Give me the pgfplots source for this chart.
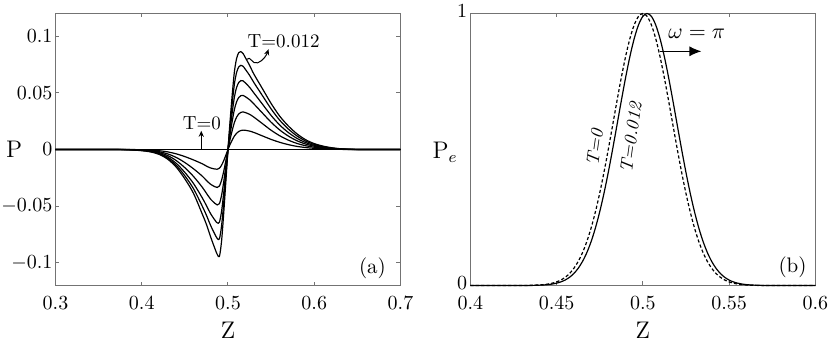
\documentclass[border=0pt]{standalone}
\usepackage{pgfplots}
\pgfplotsset{compat=1.18}
\usepackage{pgfplotstable}
\usetikzlibrary{arrows.meta}

\pgfplotstableread{
z c1 c2 c3 c4 c5 c6
0.30 0 0 0 0 0 0
0.36 0 0 0 0 0 0
0.38 -0.00002 -0.00004 -0.00007 -0.0001 -0.00014 -0.00019
0.39 -0.00007 -0.00014 -0.00022 -0.0003 -0.00038 -0.00047
0.40 -0.00017 -0.00034 -0.00051 -0.00069 -0.00086 -0.00104
0.41 -0.00044 -0.00082 -0.00117 -0.00152 -0.0018 -0.00208
0.42 -0.00104 -0.00192 -0.00266 -0.00334 -0.00383 -0.00425
0.43 -0.00209 -0.00383 -0.00532 -0.00668 -0.00765 -0.0085
0.44 -0.00383 -0.00702 -0.00976 -0.01225 -0.01403 -0.01558
0.45 -0.00626 -0.01152 -0.01607 -0.02024 -0.02327 -0.02596
0.46 -0.00922 -0.017 -0.02376 -0.03 -0.03459 -0.0387
0.47 -0.01253 -0.02339 -0.03313 -0.04244 -0.04973 -0.05664
0.475 -0.01462 -0.02728 -0.03865 -0.04952 -0.05802 -0.06608
0.48 -0.01636 -0.03078 -0.04398 -0.05685 -0.06727 -0.07741
0.485 -0.01723 -0.03286 -0.04762 -0.06249 -0.07508 -0.08779
0.4875 -0.0174 -0.03347 -0.04891 -0.06471 -0.07842 -0.09251
0.49 -0.01653 -0.03226 -0.04782 -0.06419 -0.0789 -0.0944
0.4925 -0.01392 -0.02728 -0.04062 -0.05476 -0.06759 -0.08118
0.495 -0.00992 -0.01935 -0.02869 -0.03851 -0.04734 -0.05664
0.4975 -0.00505 -0.00981 -0.01449 -0.01939 -0.02375 -0.02832
0.5 0 0 0 0 0 0
0.5025 0.00462 0.00919 0.01356 0.01765 0.02193 0.02592
0.505 0.00855 0.01712 0.0254 0.03322 0.04148 0.04925
0.5075 0.01197 0.02398 0.03559 0.04659 0.05819 0.06912
0.51 0.01436 0.02857 0.04214 0.0548 0.06804 0.08035
0.5125 0.0159 0.03137 0.04589 0.05922 0.07296 0.08554
0.515 0.01676 0.03277 0.04752 0.06081 0.0743 0.0864
0.5175 0.0171 0.03317 0.04772 0.06056 0.07341 0.08467
0.52 0.01693 0.03263 0.04666 0.05885 0.07087 0.08122
0.525 0.01625 0.03104 0.04396 0.05492 0.0655 0.0743
0.53 0.01505 0.02857 0.04021 0.0499 0.05908 0.06653
0.54 0.01197 0.02278 0.03213 0.03997 0.04745 0.05357
0.55 0.00889 0.01698 0.02405 0.03004 0.03581 0.04061
0.56 0.00633 0.01212 0.01722 0.02158 0.02581 0.02938
0.57 0.00428 0.00826 0.01183 0.01496 0.01805 0.02074
0.58 0.00274 0.00533 0.0077 0.00981 0.01194 0.01382
0.59 0.00171 0.00333 0.00481 0.00613 0.00746 0.00864
0.60 0.00103 0.002 0.00289 0.00368 0.00448 0.00518
0.61 0.00056 0.00111 0.00163 0.0021 0.00258 0.00302
0.62 0.00027 0.00055 0.00081 0.00105 0.00131 0.00156
0.63 0.00012 0.00024 0.00036 0.00047 0.00058 0.00069
0.64 0.00003 0.00007 0.00012 0.00016 0.00021 0.00026
0.66 0 0 0 0 0 0
0.70 0 0 0 0 0 0
}\tabP

\begin{document}
\begin{tikzpicture}
\path[use as bounding box] (-27.75pt,-39.25pt) rectangle (387.25pt,142.75pt);
\pgfplotsset{
  common/.style={
    scale only axis, width=172.5pt, height=136pt, clip=false,
    axis line style={draw=black!55, line width=0.5pt},
    major tick length=2pt, tick style={draw=black!55, line width=0.5pt},
    tick align=inside,
    scaled ticks=false,
    tick label style={font=\fontsize{10}{12}\selectfont},
    xticklabel style={/pgf/number format/fixed, /pgf/number format/precision=2, yshift=-2pt},
    yticklabel style={/pgf/number format/fixed, /pgf/number format/precision=2, xshift=2pt},
    xlabel={Z}, xlabel style={font=\large, at={(axis description cs:0.5,-0.166)}, anchor=center},
  },
  crv/.style={black, line width=0.6pt, smooth, mark=none}
}
\begin{axis}[common, at={(0pt,0pt)}, anchor=south west,
  xmin=0.3, xmax=0.7, ymin=-0.12, ymax=0.12,
  xtick={0.3,0.4,0.5,0.6,0.7}, ytick={-0.1,-0.05,0,0.05,0.1},
  ylabel={P}, ylabel style={rotate=-90, at={(axis description cs:-0.12,0.5)}, anchor=center, font=\large}]
\addplot[black, line width=0.6pt] coordinates {(0.3,0) (0.7,0)};
\addplot[crv] table[x=z, y=c1] {\tabP};
\addplot[crv] table[x=z, y=c2] {\tabP};
\addplot[crv] table[x=z, y=c3] {\tabP};
\addplot[crv] table[x=z, y=c4] {\tabP};
\addplot[crv] table[x=z, y=c5] {\tabP};
\addplot[crv] table[x=z, y=c6] {\tabP};
\draw[-{Stealth[length=3pt,width=2.6pt]}, line width=0.5pt] (axis cs:0.469,0) -- (axis cs:0.469,0.0165);
\node[font=\fontsize{9.5}{11}\selectfont] at (axis cs:0.4698,0.0228) {T=0};
\draw[-{Stealth[length=3pt,width=2.6pt]}, line width=0.5pt] (axis cs:0.5215,0.0795) .. controls (axis cs:0.5265,0.0835) and (axis cs:0.5275,0.0745) .. (axis cs:0.5345,0.0765) .. controls (axis cs:0.541,0.0785) and (axis cs:0.5445,0.083) .. (axis cs:0.547,0.0885);
\node[font=\fontsize{9.5}{11}\selectfont] at (axis cs:0.5645,0.0954) {T=0.012};
\node[font=\fontsize{10.5}{12}\selectfont] at (axis cs:0.6675,-0.105) {(a)};
\end{axis}

\begin{axis}[common, at={(207.4pt,0pt)}, anchor=south west,
  xmin=0.4, xmax=0.6, ymin=0, ymax=1,
  xtick={0.4,0.45,0.5,0.55,0.6}, ytick={0,1},
  yticklabel style={yshift=1pt},
  ylabel={$\mathrm{P}_e$}, ylabel style={rotate=-90, at={(axis description cs:-0.073,0.49)}, anchor=center, font=\large}]
\addplot[black, line width=0.6pt, dash pattern=on 1.6pt off 1.1pt, smooth] coordinates {
(0.4,0) (0.43,0.0002) (0.435,0.0007) (0.44,0.0020) (0.4425,0.0033) (0.445,0.0053) (0.4475,0.0085) (0.45,0.0132) (0.4525,0.0202) (0.455,0.0301) (0.4575,0.0439) (0.46,0.0628) (0.4625,0.0878) (0.465,0.1201) (0.4675,0.1608) (0.47,0.2108) (0.4725,0.2703) (0.475,0.3391) (0.4775,0.4165) (0.48,0.5006) (0.4825,0.5887) (0.485,0.6776) (0.4875,0.7632) (0.49,0.8411) (0.4925,0.9073) (0.495,0.9577) (0.4975,0.9893) (0.5,1) (0.5025,0.9893) (0.505,0.9577) (0.5075,0.9073) (0.51,0.8411) (0.5125,0.7632) (0.515,0.6776) (0.5175,0.5887) (0.52,0.5006) (0.5225,0.4165) (0.525,0.3391) (0.5275,0.2703) (0.53,0.2108) (0.5325,0.1608) (0.535,0.1201) (0.5375,0.0878) (0.54,0.0628) (0.5425,0.0439) (0.545,0.0301) (0.5475,0.0202) (0.55,0.0132) (0.5525,0.0085) (0.555,0.0053) (0.5575,0.0033) (0.56,0.0020) (0.565,0.0007) (0.57,0.0002) (0.6,0)};
\addplot[black, line width=0.6pt, smooth] coordinates {
(0.4,0) (0.4325,0.0002) (0.4375,0.0007) (0.4425,0.0020) (0.445,0.0033) (0.4475,0.0053) (0.45,0.0085) (0.4525,0.0132) (0.455,0.0202) (0.4575,0.0301) (0.46,0.0439) (0.4625,0.0628) (0.465,0.0878) (0.4675,0.1201) (0.47,0.1608) (0.4725,0.2108) (0.475,0.2703) (0.4775,0.3391) (0.48,0.4165) (0.4825,0.5006) (0.485,0.5887) (0.4875,0.6776) (0.49,0.7632) (0.4925,0.8411) (0.495,0.9073) (0.4975,0.9577) (0.5,0.9893) (0.5025,1) (0.505,0.9893) (0.5075,0.9577) (0.51,0.9073) (0.5125,0.8411) (0.515,0.7632) (0.5175,0.6776) (0.52,0.5887) (0.5225,0.5006) (0.525,0.4165) (0.5275,0.3391) (0.53,0.2703) (0.5325,0.2108) (0.535,0.1608) (0.5375,0.1201) (0.54,0.0878) (0.5425,0.0628) (0.545,0.0439) (0.5475,0.0301) (0.55,0.0202) (0.5525,0.0132) (0.555,0.0085) (0.5575,0.0053) (0.56,0.0033) (0.5625,0.0020) (0.5675,0.0007) (0.5725,0.0002) (0.6,0)};
\draw[-{Latex[length=6pt,width=5pt]}, line width=0.6pt] (axis cs:0.5098,0.861) -- (axis cs:0.534,0.861);
\node[font=\fontsize{11}{13}\selectfont] at (axis cs:0.5313,0.926) {$\omega = \pi$};
\node[rotate=82, font=\itshape\fontsize{9}{10}\selectfont] at (axis cs:0.4722,0.507) {T=0};
\node[rotate=82, font=\itshape\fontsize{9}{10}\selectfont] at (axis cs:0.4931,0.544) {T=0.012};
\node[font=\fontsize{10.5}{12}\selectfont] at (axis cs:0.5868,0.066) {(b)};
\end{axis}
\end{tikzpicture}
\end{document}
